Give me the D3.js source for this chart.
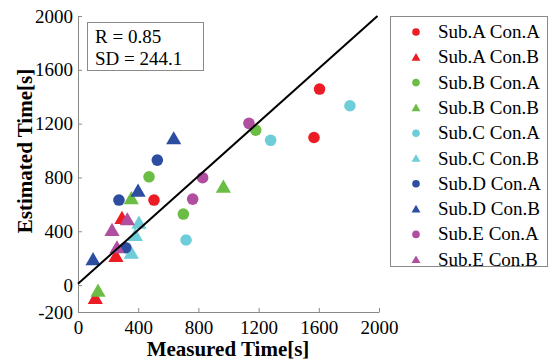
<html>
<head>
<meta charset="utf-8">
<title>Estimated vs Measured Time</title>
<script src="https://d3js.org/d3.v7.min.js"></script>
<style>
    body { margin: 0; background: #fff; }
</style>
</head>
<body>
<div id="chart"></div>
<script>
    // series: subject + condition, circle = Con.A, triangle = Con.B
    var seriesNames = ["Sub.A Con.A", "Sub.A Con.B", "Sub.B Con.A", "Sub.B Con.B", "Sub.C Con.A",
                       "Sub.C Con.B", "Sub.D Con.A", "Sub.D Con.B", "Sub.E Con.A", "Sub.E Con.B"];
    var seriesColors = ["#ec1c24", "#ec1c24", "#6cbd45", "#6cbd45", "#6dcdd9",
                        "#6dcdd9", "#2c4da0", "#2c4da0", "#b04f9f", "#b04f9f"];
    var seriesShapes = ["circle", "triangle", "circle", "triangle", "circle",
                        "triangle", "circle", "triangle", "circle", "triangle"];

    // measured / estimated times [s], one array per series
    var measured = [
        [1605, 1568, 505],
        [115, 252, 292],
        [472, 1181, 700],
        [133, 354, 966],
        [1807, 1280, 718],
        [405, 381, 354],
        [527, 272, 317],
        [636, 399, 100],
        [1136, 828, 762],
        [328, 226, 259]
    ];
    var estimated = [
        [1457, 1097, 632],
        [-97, 216, 498],
        [805, 1152, 528],
        [-42, 645, 731],
        [1333, 1076, 335],
        [463, 372, 240],
        [929, 632, 278],
        [1090, 701, 191],
        [1202, 798, 639],
        [488, 409, 280]
    ];

    var fitX = [0, 1990];
    var fitY = [10, 2000];

    var xTicks = [0, 400, 800, 1200, 1600, 2000];
    var yTicks = [-200, 0, 400, 800, 1200, 1600, 2000];
    var statLines = ["R = 0.85", "SD = 244.1"];

    var serif = "'Liberation Serif', 'Times New Roman', Times, serif";
    var width = 549, height = 363;
    var svg = d3.select("#chart").append("svg")
        .attr("width", width).attr("height", height)
        .style("font-family", serif);

    var x = d3.scaleLinear().domain([0, 2000]).range([78, 379]);
    var y = d3.scaleLinear().domain([-200, 2000]).range([312, 16]);

    function drawMarker(g, shape, color, r, triSize) {
        if (shape === "circle") {
            g.append("circle").attr("r", r).attr("fill", color);
        } else {
            g.append("path")
                .attr("d", d3.symbol().type(d3.symbolTriangle).size(triSize)())
                .attr("transform", "translate(0," + (triSize > 50 ? 1.5 : 0.8) + ")")
                .attr("fill", color);
        }
    }

    // axes (box off, ticks pointing inward)
    var plain = function (d) { return String(d); };
    var xAxis = d3.axisBottom(x).tickValues(xTicks).tickFormat(plain)
        .tickSizeInner(-4).tickSizeOuter(0).tickPadding(9);
    var yAxis = d3.axisLeft(y).tickValues(yTicks).tickFormat(plain)
        .tickSizeInner(-4).tickSizeOuter(0).tickPadding(9);

    var gx = svg.append("g").attr("transform", "translate(0,312)").call(xAxis);
    var gy = svg.append("g").attr("transform", "translate(78,0)").call(yAxis);

    [gx, gy].forEach(function (g) {
        g.attr("font-family", null).attr("font-size", null);
        g.select(".domain").attr("stroke", "#8a8a8a");
        g.selectAll(".tick line").attr("stroke", "#8a8a8a");
        g.selectAll(".tick text")
            .style("font-family", serif)
            .style("font-size", "19px")
            .attr("fill", "#000");
    });
    gy.selectAll(".tick text").attr("x", -5);

    // points
    seriesNames.forEach(function (name, i) {
        var pts = measured[i].map(function (m, j) { return [m, estimated[i][j]]; });
        svg.append("g").selectAll("g")
            .data(pts).enter()
            .append("g")
            .attr("transform", function (d) { return "translate(" + x(d[0]) + "," + y(d[1]) + ")"; })
            .each(function () { drawMarker(d3.select(this), seriesShapes[i], seriesColors[i], 5.8, 100); });
    });

    // regression line
    svg.append("path")
        .datum(fitX.map(function (v, i) { return [v, fitY[i]]; }))
        .attr("fill", "none")
        .attr("stroke", "#000")
        .attr("stroke-width", 2)
        .attr("d", d3.line().x(function (d) { return x(d[0]); }).y(function (d) { return y(d[1]); }));

    // stats box
    svg.append("rect")
        .attr("x", 87.5).attr("y", 22.5).attr("width", 116).attr("height", 48)
        .attr("fill", "#fff").attr("stroke", "#8a8a8a").attr("stroke-width", 1);
    svg.selectAll(".stat")
        .data(statLines).enter()
        .append("text")
        .attr("class", "stat")
        .attr("x", 95)
        .attr("y", function (d, i) { return 43 + i * 21.5; })
        .style("font-family", serif)
        .style("font-size", "19px")
        .text(function (d) { return d; });

    // axis titles
    svg.append("text")
        .attr("x", 228).attr("y", 356)
        .attr("text-anchor", "middle")
        .style("font-family", serif)
        .style("font-size", "21px").style("font-weight", "bold")
        .text("Measured Time[s]");
    svg.append("text")
        .attr("transform", "translate(32,151) rotate(-90)")
        .attr("text-anchor", "middle")
        .style("font-family", serif)
        .style("font-size", "21px").style("font-weight", "bold")
        .text("Estimated Time[s]");

    // legend
    var legend = svg.append("g");
    legend.append("rect")
        .attr("x", 390.5).attr("y", 16.5).attr("width", 157).attr("height", 250)
        .attr("fill", "#fff").attr("stroke", "#8a8a8a");
    var items = legend.selectAll(".item")
        .data(seriesNames).enter()
        .append("g")
        .attr("class", "item")
        .attr("transform", function (d, i) { return "translate(416," + (32 + i * 25.3) + ")"; });
    items.each(function (d, i) {
        drawMarker(d3.select(this), seriesShapes[i], seriesColors[i], 3.8, 34);
    });
    items.append("text")
        .attr("x", 22).attr("y", 6)
        .style("font-family", serif)
        .style("font-size", "19px")
        .text(function (d) { return d; });
</script>
</body>
</html>
